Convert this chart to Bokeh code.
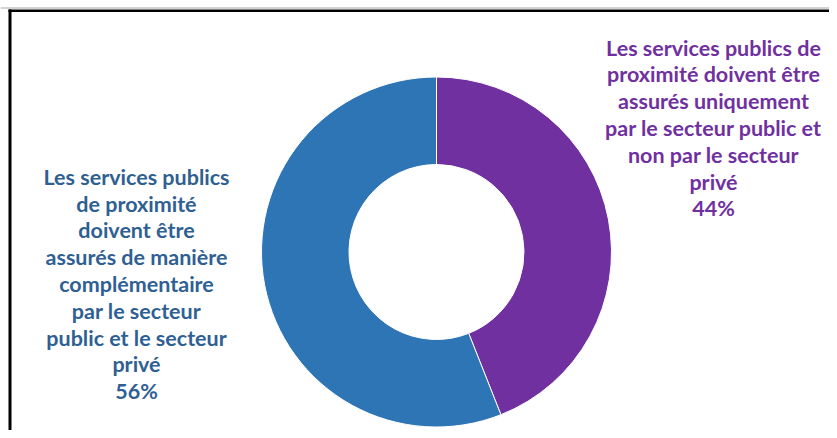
from bokeh.plotting import figure
from bokeh.models import Range1d, BoxAnnotation, ColumnDataSource
from bokeh.core.properties import value
from bokeh.embed import file_html
from bokeh.resources import INLINE
import math

# ---- data ----
categories = [
    "Les services publics de\nproximité doivent être\nassurés uniquement\npar le secteur public et\nnon par le secteur\nprivé",
    "Les services publics\nde proximité\ndoivent être\nassurés de manière\ncomplémentaire\npar le secteur\npublic et le secteur\nprivé",
]
shares = [44, 56]
colors = ["#7030A0", "#2E75B6"]
text_colors = ["#7030A0", "#2F5F93"]

W, H = 829, 430
p = figure(width=W, height=H, output_backend="svg", toolbar_location=None,
           x_range=Range1d(0, W), y_range=Range1d(0, H),
           x_axis_location=None, y_axis_location=None, min_border=0)
p.grid.visible = False
p.outline_line_color = None
p.background_fill_color = "white"

# wedges: first slice starts at top and runs clockwise
total = sum(shares)
starts, ends = [], []
cur = math.pi / 2
for s in shares:
    a = 2 * math.pi * s / total
    starts.append(cur - a)
    ends.append(cur)
    cur -= a

cx, cy = 436, H - 251.5
src = ColumnDataSource(dict(start=starts, end=ends, color=colors))
p.annular_wedge(x=cx, y=cy, inner_radius=87.5, outer_radius=175,
                start_angle="start", end_angle="end", fill_color="color",
                line_color="white", line_width=1, source=src)

labels = [f"{c}\n{s}%" for c, s in zip(categories, shares)]
lx = [713, 136]
ly = [H - 127.5, H - 283.5]
tsrc = ColumnDataSource(dict(x=lx, y=ly, text=labels, color=text_colors))
p.text(x="x", y="y", text="text", source=tsrc, text_color="color",
       text_font=value("Lato"), text_font_style="bold", text_font_size="21.5px",
       text_align="center", text_baseline="middle", text_line_height=1.03)

# frame lines (gray rule, then black left and top border)
p.add_layout(BoxAnnotation(bottom=H - 8, top=H - 7, fill_color="#A6A6A6", fill_alpha=1,
                           line_color=None))
p.add_layout(BoxAnnotation(left=8, right=11, top=H - 9, fill_color="black", fill_alpha=1,
                           line_color=None))
p.add_layout(BoxAnnotation(left=8, bottom=H - 11.5, top=H - 9, fill_color="black",
                           fill_alpha=1, line_color=None))

open("out.html", "w").write(file_html(p, INLINE))
